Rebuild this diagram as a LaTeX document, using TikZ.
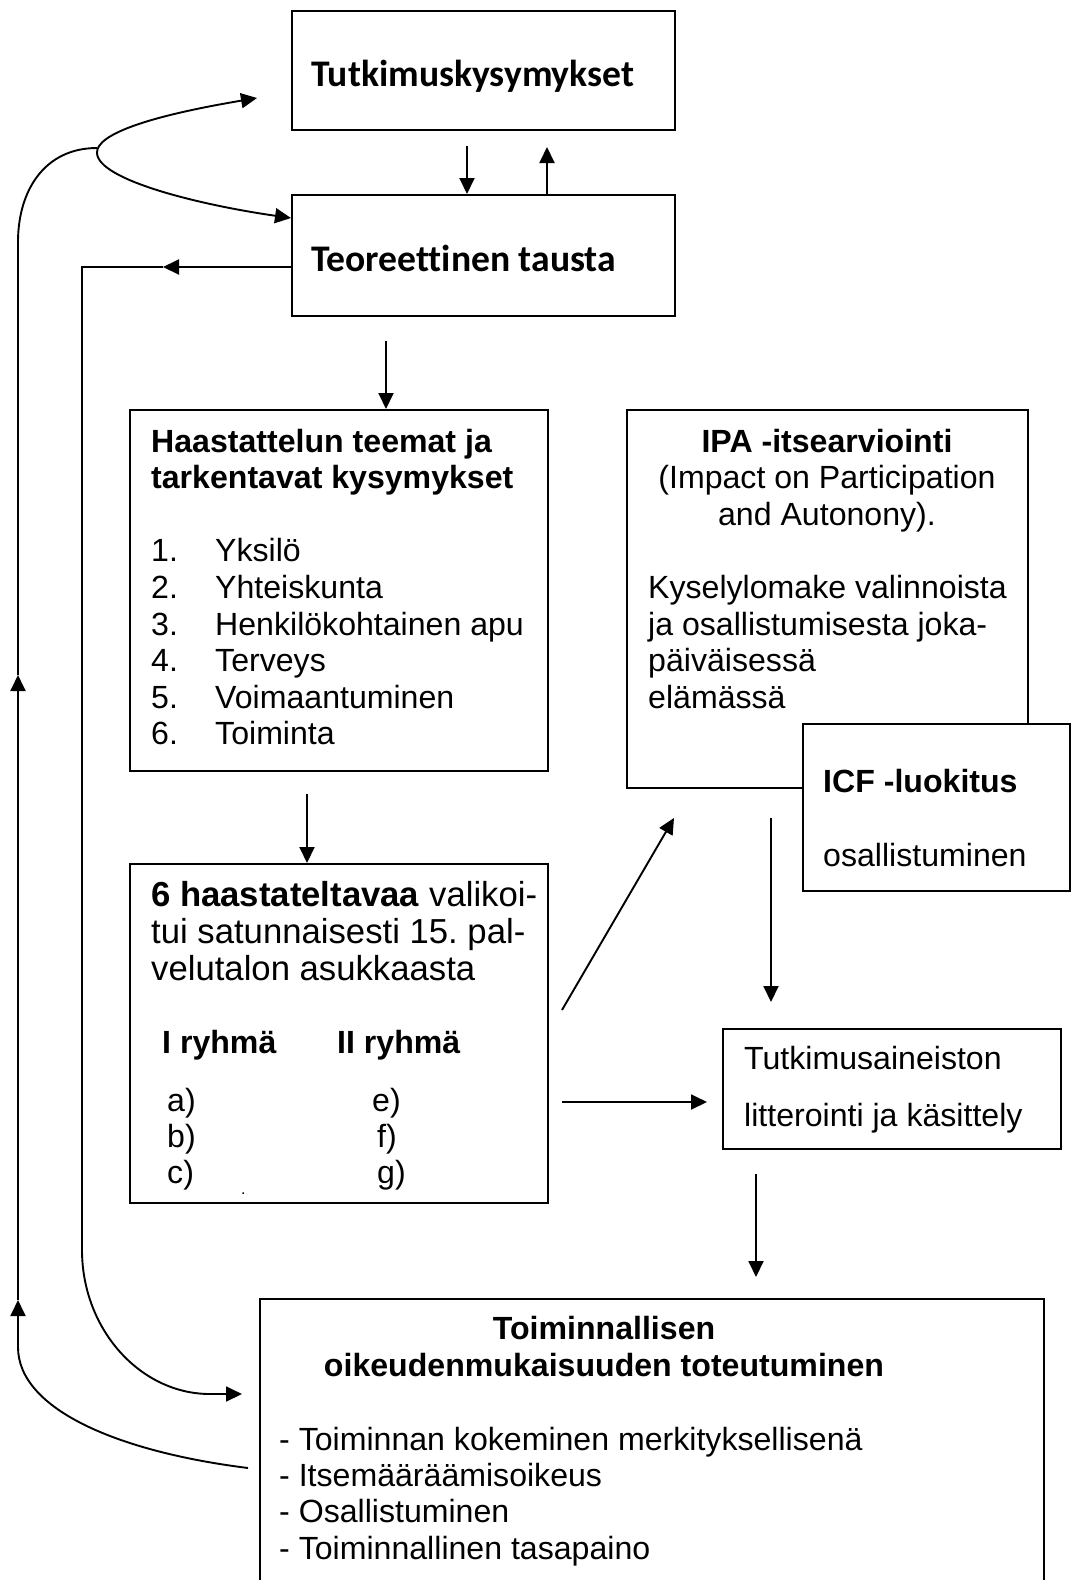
\documentclass[tikz,border=0pt]{standalone}
\usepackage{fontspec}
\setmainfont{Liberation Sans}
\newfontfamily\calfont[Ligatures=NoCommon]{Carlito}
\usetikzlibrary{arrows.meta}
\begin{document}
\begin{tikzpicture}[x=1pt,y=-1pt,
  box/.style={draw, line width=1.8pt, fill=white, anchor=north west, inner sep=0pt},
  arr/.style={line width=1.9pt, -{Triangle[width=15pt,length=16pt]}},
  ln/.style={line width=1.9pt},
  txt/.style={anchor=base west, inner sep=0pt, font=\fontsize{32.1}{36.6}\selectfont},
  big/.style={anchor=base west, inner sep=0pt, font=\fontsize{34.7}{37}\selectfont},
  ctxt/.style={txt, anchor=base},
  ttl/.style={anchor=base west, inner sep=0pt, font=\calfont\bfseries\fontsize{37.6}{40}\selectfont}]
\useasboundingbox (0,0) rectangle (1072,1580);
\fill[white] (0,0) rectangle (1072,1580);
\clip (0,0) rectangle (1072,1580);

% boxes
\node[box, minimum width=383pt, minimum height=119pt] (tk) at (291,10) {};
\node[box, minimum width=383pt, minimum height=121pt] (tt) at (291,194) {};
\node[box, minimum width=418pt, minimum height=361pt] (ht) at (129,409) {};
\node[box, minimum width=418pt, minimum height=339pt] (hk) at (129,863) {};
\node[box, minimum width=401pt, minimum height=378pt] (ipa) at (626,409) {};
\node[box, minimum width=267pt, minimum height=167pt] (icf) at (802,723) {};
\node[box, minimum width=338pt, minimum height=120pt] (ta) at (722,1028) {};
\node[box, minimum width=784pt, minimum height=330pt] (tm) at (259,1298) {};

% titles
\node[ttl] (tkT) at (311,86) {Tutkimuskysymykset};
\node[ttl] (ttT) at (311,271) {Teoreettinen tausta};

% Haastattelun box
\node[txt] (h1) at (151,452) {\bfseries Haastattelun teemat ja};
\node[txt] (h2) at (151,488.6) {\bfseries tarkentavat kysymykset};
\node[txt] (n1) at (151,561.8) {1.};
\node[txt] (i1) at (215,561.8) {Yksilö};
\node[txt] (n2) at (151,598.4) {2.};
\node[txt] (i2) at (215,598.4) {Yhteiskunta};
\node[txt] (n3) at (151,635) {3.};
\node[txt] (i3) at (215,635) {Henkilökohtainen apu};
\node[txt] (n4) at (151,671.6) {4.};
\node[txt] (i4) at (215,671.6) {Terveys};
\node[txt] (n5) at (151,708.2) {5.};
\node[txt] (i5) at (215,708.2) {Voimaantuminen};
\node[txt] (n6) at (151,744.8) {6.};
\node[txt] (i6) at (215,744.8) {Toiminta};

% IPA box
\node[ctxt] (p1) at (827,452) {\bfseries IPA -itsearviointi};
\node[ctxt] (p2) at (827,488.6) {(Impact on Participation};
\node[ctxt] (p3) at (827,525.2) {and Autonony).};
\node[txt] (p4) at (648,598.4) {Kyselylomake valinnoista};
\node[txt] (p5) at (648,635) {ja osallistumisesta joka-};
\node[txt] (p6) at (648,671.6) {päiväisessä};
\node[txt] (p7) at (648,708.2) {elämässä};

% ICF box
\node[txt] (c1) at (823,792) {\bfseries ICF -luokitus};
\node[txt] (c2) at (823,866) {osallistuminen};

% 6 haastateltavaa box
\node[big] (k1) at (151,906) {\textbf{6 haastateltavaa} valikoi-};
\node[big] (k2) at (151,943) {tui satunnaisesti 15.\ pal-};
\node[big] (k3) at (151,980) {velutalon asukkaasta};
\node[txt] (g1) at (162,1053) {\bfseries I ryhmä};
\node[txt] (g2) at (337,1053) {\bfseries II ryhmä};
\node[txt] (ga) at (167,1111) {a)};
\node[txt] (gb) at (167,1147) {b)};
\node[txt] (gc) at (167,1183) {c)};
\node[txt] (ge) at (372,1111) {e)};
\node[txt] (gf) at (377,1147) {f)};
\node[txt] (gg) at (377,1183) {g)};
\node[anchor=base west, inner sep=0pt, font=\fontsize{16}{18}\selectfont] (dot) at (241,1194) {.};

% Tutkimusaineiston box
\node[txt] (a1) at (744,1069) {Tutkimusaineiston};
\node[txt] (a2) at (744,1126) {litterointi ja käsittely};

% bottom box
\node[ctxt] (m1) at (604,1339) {\bfseries Toiminnallisen};
\node[ctxt] (m2) at (604,1376) {\bfseries oikeudenmukaisuuden toteutuminen};
\node[txt] (l1) at (279,1450) {- Toiminnan kokeminen merkityksellisenä};
\node[txt] (l2) at (279,1486) {- Itsemääräämisoikeus};
\node[txt] (l3) at (279,1522) {- Osallistuminen};
\node[txt] (l4) at (279,1559) {- Toiminnallinen tasapaino};

% free-end coordinates
\coordinate (d1) at (467,146);
\coordinate (u1) at (547,147);
\coordinate (L1) at (163,267);
\coordinate (L2) at (242,1394);
\coordinate (O0) at (248,1468);
\coordinate (OA) at (18,1300);
\coordinate (OB) at (18,675);
\coordinate (F) at (97,153);
\coordinate (Ftop) at (257,98);
\coordinate (s1) at (386,341);
\coordinate (s2) at (307,794);
\coordinate (e1) at (562,1010);
\coordinate (e1t) at (674,818);
\coordinate (e2) at (562,1102);
\coordinate (e2t) at (707,1102);
\coordinate (e3) at (771,818);
\coordinate (e3t) at (771,1002);
\coordinate (e4) at (756,1174);
\coordinate (e4t) at (756,1277);

% connectors between top boxes
\draw[arr] (d1) -- (d1 |- tt.north);
\draw[arr] (u1 |- tt.north) -- (u1);

% inner loop
\draw[arr] (tt.west |- L1) -- (L1);
\draw[arr] (L1) -- (82,267) -- (82,1250) .. controls (82,1329) and (140,1394) .. (210,1394) -- (L2);

% outer loop
\draw[arr] (O0) .. controls (120,1452) and (18,1410) .. (18,1347) -- (OA);
\draw[arr] (OA) -- (OB);
\draw[ln] (OB) -- (18,242) .. controls (18,190) and (45,148) .. (97,148);
\draw[arr] (F) .. controls (96,134) and (150,116) .. (Ftop);
\draw[arr] (F) .. controls (98,180) and (200,205) .. ([yshift=-24pt]tt.north west);

% down arrows
\draw[arr] (s1) -- (s1 |- ht.north);
\draw[arr] (s2) -- (s2 |- hk.north);
\draw[arr] (e1) -- (e1t);
\draw[arr] (e2) -- (e2t);
\draw[arr] (e3) -- (e3t);
\draw[arr] (e4) -- (e4t);
\end{tikzpicture}
\end{document}
